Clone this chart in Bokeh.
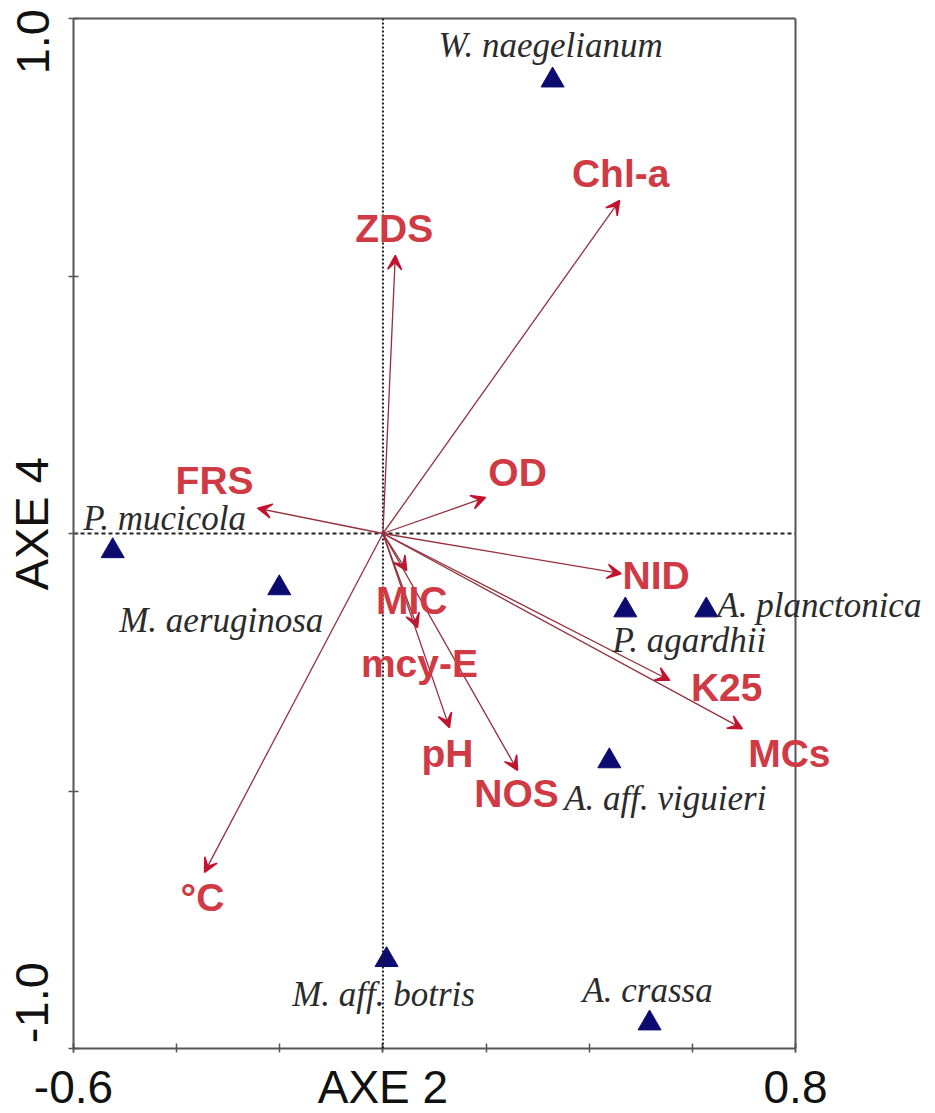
from bokeh.plotting import figure
from bokeh.models import (ColumnDataSource, Arrow, VeeHead, LabelSet, Span,
                          Range1d, FixedTicker, LinearAxis)
from bokeh.core.properties import value
from bokeh.embed import file_html
from bokeh.resources import INLINE

# ---- data ----
var_names = ["Chl-a", "ZDS", "FRS", "OD", "NID", "K25", "MCs", "MIC", "mcy-E", "pH", "NOS", "°C"]
var_x = [0.459, 0.024, -0.243, 0.199, 0.462, 0.556, 0.697, 0.046, 0.067, 0.129, 0.261, -0.346]
var_y = [0.647, 0.540, 0.049, 0.070, -0.078, -0.285, -0.379, -0.072, -0.183, -0.377, -0.460, -0.658]

sp_names = ["W. naegelianum", "P. mucicola", "M. aeruginosa", "P. agardhii",
            "A. planctonica", "A. aff. viguieri", "M. aff. botris", "A. crassa"]
sp_x = [0.329, -0.524, -0.201, 0.470, 0.627, 0.439, 0.007, 0.517]
sp_y = [0.880, -0.034, -0.106, -0.149, -0.149, -0.442, -0.828, -0.951]

x_lo, x_hi = -0.6, 0.8
y_lo, y_hi = -1.0, 1.0
x_ticks_major = [-0.6, 0.0, 0.8]
x_ticks_minor = [-0.6, -0.4, -0.2, 0.0, 0.2, 0.4, 0.6, 0.8]
y_ticks_minor = [-1.0, -0.5, 0.0, 0.5, 1.0]
x_labels = {-0.6: "-0.6", 0.0: "AXE 2", 0.8: "0.8"}
# y-axis texts sit a little inside the ends of the axis in the reference
y_label_pos = [0.955, 0.019, -0.911]
y_label_txt = ["1.0", "AXE 4", "-1.0"]

# ---- label placement (screen px: right +, down +) ----
var_dx = [1, -1, -43, 32, 35, 57, 47, 5, 2, -2, -1, -2]
var_dy = [-27, -27, -28, -25, 2, 7, 25, 30, 36, 26, 23, 25]
sp_dx = [-2, 52, -58, 64, 11, 56, -3, -2]
sp_dy = [-35, -33, 32, 30, -5, 37, 35, -33]
sp_align = ["center", "center", "center", "center", "left", "center", "center", "center"]

RED_TXT = "#CF3A44"
RED_HEAD = "#C4122F"
RED_LINE = "#93303C"
NAVY = "#0C0C70"
AX = "#555555"

PX_PER_UNIT = 722 / (x_hi - x_lo)
FRAME_W = 860  # extra room right of the box for labels that overhang it
p = figure(frame_width=FRAME_W, frame_height=1030,
           min_border_left=73, min_border_right=2, min_border_top=18, min_border_bottom=50,
           x_range=Range1d(x_lo, x_lo + FRAME_W / PX_PER_UNIT), y_range=Range1d(y_lo, y_hi),
           output_backend="svg", toolbar_location=None)
p.xgrid.visible = False
p.ygrid.visible = False
p.background_fill_color = "white"
p.border_fill_color = "white"
p.outline_line_color = None

# x axis (bottom)
xa = p.xaxis[0]
xa.bounds = (x_lo, x_hi)
xa.ticker = FixedTicker(ticks=x_ticks_major, minor_ticks=x_ticks_minor)
xa.major_label_overrides = x_labels
xa.major_label_text_font = "Liberation Sans"
xa.major_label_text_font_size = "46px"
xa.major_label_text_color = "#111111"
xa.major_label_standoff = 8
xa.axis_line_color = AX
xa.axis_line_width = 2
xa.major_tick_line_color = AX
xa.minor_tick_line_color = AX
xa.major_tick_line_width = 1.5
xa.minor_tick_line_width = 1.5
xa.major_tick_in = 5
xa.major_tick_out = 4
xa.minor_tick_in = 5
xa.minor_tick_out = 4

# y axis (left)
ya = p.yaxis[0]
ya.ticker = FixedTicker(ticks=y_label_pos, minor_ticks=y_ticks_minor)
ya.major_label_overrides = dict(zip(y_label_pos, y_label_txt))
ya.major_label_orientation = "vertical"
ya.major_label_text_font = "Liberation Sans"
ya.major_label_text_font_size = "47px"
ya.major_label_text_color = "#111111"
ya.major_label_standoff = 10
ya.major_tick_in = 0
ya.major_tick_out = 0
ya.axis_line_color = AX
ya.axis_line_width = 2
ya.minor_tick_line_color = AX
ya.minor_tick_line_width = 1.5
ya.minor_tick_in = 5
ya.minor_tick_out = 5

# top edge of the box
top = LinearAxis(bounds=(x_lo, x_hi), ticker=FixedTicker(ticks=[]),
                 major_label_text_font_size="0px", axis_line_color=AX, axis_line_width=2,
                 major_tick_line_color=None, minor_tick_line_color=None)
p.add_layout(top, "above")
# right edge of the box
p.add_layout(Span(location=x_hi, dimension="height", line_color=AX, line_width=2))

# zero lines
p.add_layout(Span(location=0, dimension="height", line_color="#1A1A1A", line_width=2, line_dash="2 2"))
p.segment(x0=[x_lo], y0=[0], x1=[x_hi], y1=[0], line_color="#222222", line_width=1.8, line_dash="4 3")

# arrows
vsrc = ColumnDataSource(dict(x0=[0.0] * len(var_x), y0=[0.0] * len(var_y), x=var_x, y=var_y,
                             name=var_names, dx=var_dx, dy=[-d for d in var_dy]))
p.add_layout(Arrow(end=VeeHead(size=14, fill_color=RED_HEAD, line_color=RED_HEAD, line_width=1.5),
                   x_start="x0", y_start="y0", x_end="x", y_end="y", source=vsrc,
                   line_color=RED_LINE, line_width=1.3))
p.add_layout(LabelSet(x="x", y="y", text="name", x_offset="dx", y_offset="dy", source=vsrc,
                      text_align="center", text_baseline="middle",
                      text_font=value("Liberation Sans"), text_font_style="bold",
                      text_font_size="39px", text_color=RED_TXT))

# species
ssrc = ColumnDataSource(dict(x=sp_x, y=sp_y, name=sp_names, dx=sp_dx, dy=[-d for d in sp_dy],
                             align=sp_align))
p.scatter("x", "y", source=ssrc, marker="triangle", size=23, fill_color=NAVY, line_color=NAVY)
p.add_layout(LabelSet(x="x", y="y", text="name", x_offset="dx", y_offset="dy", source=ssrc,
                      text_align="align", text_baseline="middle",
                      text_font=value("Liberation Serif"), text_font_style="italic",
                      text_font_size="35px", text_color="#2B2B2B"))

open("out.html", "w").write(file_html(p, INLINE))
